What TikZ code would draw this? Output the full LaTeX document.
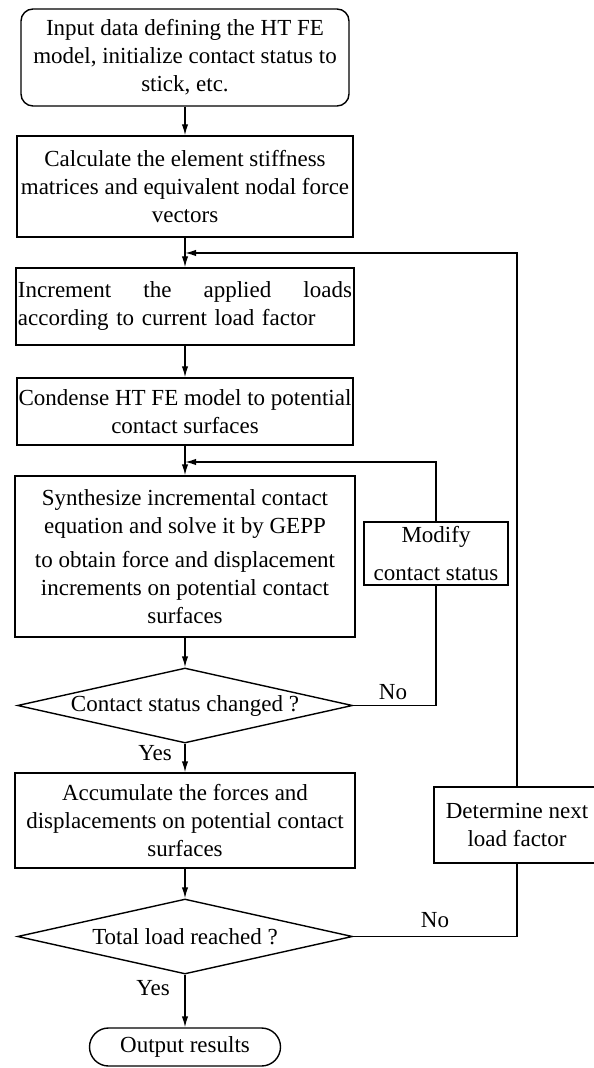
\documentclass[tikz,border=0pt]{standalone}
\usepackage{fontspec}
\setmainfont{Liberation Serif}
\usetikzlibrary{shapes.geometric,arrows.meta}
\begin{document}
\begin{tikzpicture}[x=0.5pt,y=0.5pt]
\tikzstyle{every node}+=[inner sep=0pt, font=\fontsize{11.5}{14}\selectfont]
\tikzstyle{box}=[draw, line width=0.7pt, align=center]
\tikzstyle{decision}=[draw, diamond, aspect=4.4, line width=0.7pt]
\tikzstyle{line}=[line width=0.7pt]
\tikzstyle{arrow}=[line width=0.7pt, -{Latex[length=5.5pt,width=3.2pt]}]
\useasboundingbox (0,0) rectangle (593,-1068);
% main column
\node [box, rounded corners=6pt, minimum width=164pt, minimum height=48.5pt] (input) at (185,-57.5) {Input data defining the HT FE\\model, initialize contact status to\\stick, etc.};
\node [box, minimum width=168pt, minimum height=50.5pt] (calc) at (185,-186.5) {Calculate the element stiffness\\matrices and equivalent nodal force\\vectors};
\node [box, align=left, text width=167pt, minimum width=169pt, minimum height=38.5pt] (incr) at (185,-306.5) {Increment\hfill the\hfill applied\hfill loads\\according to current load factor};
\node [box, minimum width=168pt, minimum height=33.5pt] (cond) at (185,-411.5) {Condense HT FE model to potential\\contact surfaces};
\node [box, minimum width=170pt, minimum height=80.5pt] (synth) at (185,-556.5) {Synthesize incremental contact\\equation and solve it by GEPP\\[3pt]to obtain force and displacement\\increments on potential contact\\surfaces};
\node [decision, minimum width=167.5pt, minimum height=37.5pt] (changed) at (185,-705.5) {Contact status changed ?};
\node [box, minimum width=170pt, minimum height=47.5pt] (accum) at (185,-820.5) {Accumulate the forces and\\displacements on potential contact\\surfaces};
\node [decision, minimum width=167.5pt, minimum height=37.5pt] (total) at (185,-936.5) {Total load reached ?};
\node [box, rounded corners=9.5pt, minimum width=95.5pt, minimum height=19pt] (output) at (185,-1047) {Output results};
% side boxes
\node [box, minimum width=72pt, minimum height=31.5pt] (modify) at (436,-553.5) {Modify\\[5pt]contact status};
\node [box, minimum width=83pt, minimum height=38pt] (next) at (517,-825) {Determine next\\load factor};
\coordinate (merge1) at (185,-253);
\coordinate (merge2) at (185,-462);
% connectors
\draw [arrow] (input) -- (calc);
\draw [arrow] (calc) -- (incr);
\draw [arrow] (incr) -- (cond);
\draw [arrow] (cond) -- (synth);
\draw [arrow] (synth) -- (changed);
\draw [arrow] (changed) -- (accum);
\draw [arrow] (accum) -- (total);
\draw [arrow] (total) -- (output);
\draw [line] (changed.east) -| (modify.south);
\draw [arrow] (modify.north) |- (merge2);
\draw [line] (total.east) -| (next.south);
\draw [arrow] (next.north) |- (merge1);
% labels
\node (no1) at (393,-692) {No};
\node (no2) at (435,-920) {No};
\node (yes1) at (155,-753) {Yes};
\node (yes2) at (153,-988) {Yes};
\end{tikzpicture}
\end{document}
